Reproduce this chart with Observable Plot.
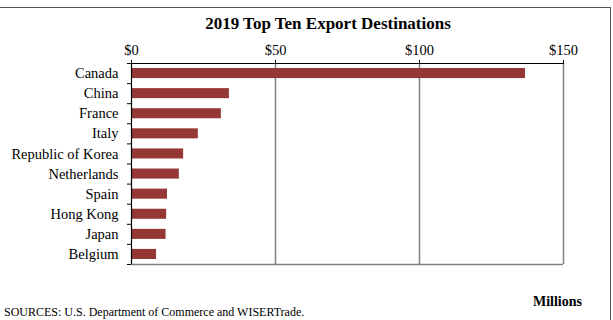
<!DOCTYPE html>
<html>
<head>
<meta charset="utf-8">
<script src="https://cdn.jsdelivr.net/npm/d3@7"></script>
<script src="https://cdn.jsdelivr.net/npm/@observablehq/plot@0.6"></script>
<style>
  html, body { margin: 0; padding: 0; background: #fff; }
  #wrap { position: relative; width: 613px; height: 320px; overflow: hidden; font-family: "Liberation Serif", "Times New Roman", serif; color: #000; }
  #frame { position: absolute; left: -1px; top: 7px; width: 612px; height: 330px; border-top: 1px solid #555; border-right: 1px solid #555; box-sizing: border-box; }
  #chart { position: absolute; left: 0; top: 0; }
  #title { position: absolute; top: 14px; left: 0; width: 656px; text-align: center; font-weight: bold; font-size: 17px; }
  #units { position: absolute; right: 31px; top: 294px; font-weight: bold; font-size: 14px; }
  #source { position: absolute; left: 4px; top: 306px; font-size: 12px; line-height: 13px; white-space: nowrap; }
</style>
</head>
<body>
<div id="wrap">
  <div id="frame"></div>
  <div id="chart"></div>
  <div id="title"></div>
  <div id="units"></div>
  <div id="source"></div>
</div>
<script>
const title = "2019 Top Ten Export Destinations";
const unitsLabel = "Millions";
const sourceText = "SOURCES: U.S. Department of Commerce and WISERTrade.";
const countries = ["Canada", "China", "France", "Italy", "Republic of Korea", "Netherlands", "Spain", "Hong Kong", "Japan", "Belgium"];
const exportsMillions = [136.8, 34.0, 31.2, 23.2, 18.1, 16.6, 12.5, 12.2, 12.0, 8.7];
const xTicks = [0, 50, 100, 150];
const gridLines = [50, 100, 150];

const data = countries.map((name, i) => ({name, value: exportsMillions[i], i}));

document.getElementById("title").textContent = title;
document.getElementById("units").textContent = unitsLabel;
document.getElementById("source").textContent = sourceText;

const chart = Plot.plot({
  width: 613,
  height: 320,
  marginLeft: 131,
  marginRight: 50,
  marginTop: 63,
  marginBottom: 56,
  style: {fontFamily: "'Liberation Serif', 'Times New Roman', serif", fontSize: "14.5px", color: "#000", background: "transparent"},
  x: {domain: [0, 150], axis: null},
  y: {domain: [0, countries.length], reverse: true, axis: null},
  marks: [
    Plot.ruleX(gridLines, {stroke: "#808080", strokeWidth: 1.5}),
    Plot.ruleY([countries.length], {stroke: "#808080", strokeWidth: 1.5}),
    Plot.rect(data, {x1: 0, x2: "value", y1: d => d.i + 0.25, y2: d => d.i + 0.75, fill: "#953735"}),
    Plot.ruleY([0], {stroke: "#000", strokeWidth: 1.2}),
    Plot.ruleX([0], {stroke: "#000", strokeWidth: 1.2}),
    Plot.axisX({anchor: "top", ticks: xTicks, tickFormat: d => "$" + d, tickSize: 4, tickPadding: 5, label: null, fontSize: 14.5}),
    Plot.axisY({ticks: d3.range(countries.length + 1), tickSize: 4, tickFormat: () => "", label: null}),
    Plot.axisY({ticks: countries.map((_, i) => i + 0.5), tickFormat: d => countries[Math.floor(d)], tickSize: 0, tickPadding: 13, label: null, fontSize: 14.5})
  ]
});
document.getElementById("chart").appendChild(chart);
</script>
</body>
</html>
